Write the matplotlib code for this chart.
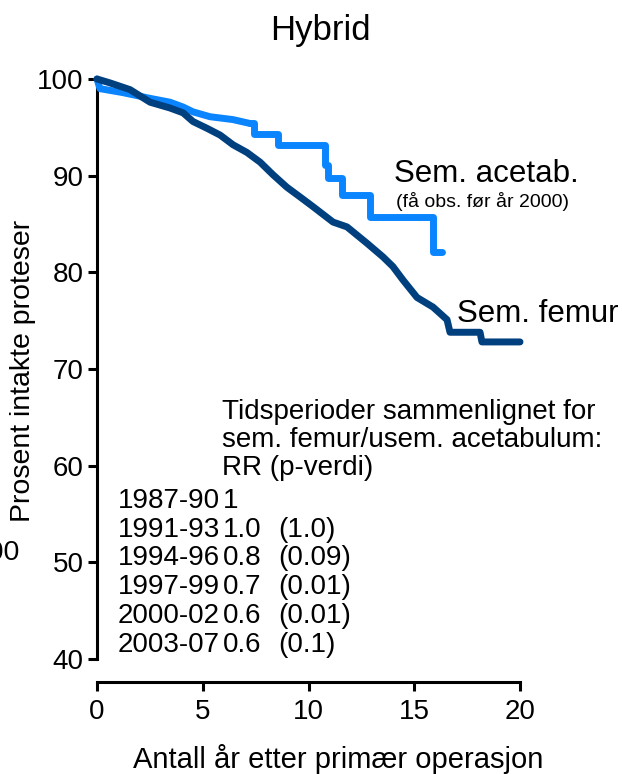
import matplotlib
matplotlib.use("Agg")
import matplotlib.pyplot as plt

plt.rcParams['font.family'] = ['Liberation Sans', 'DejaVu Sans']

W, H = 622, 774

# Sem. femur (dark)
femur_t = [0, 0.61, 1.56, 2.51, 3.45, 4.07, 4.54, 5.20, 5.82, 6.43, 7.09, 7.71,
           8.32, 8.98, 9.60, 10.21, 11.16, 11.82, 12.77, 13.52, 13.99, 14.47,
           15.13, 15.89, 16.55, 16.69, 18.11, 18.20, 20.0]
femur_v = [100, 99.6, 98.9, 97.6, 97.0, 96.5, 95.6, 94.9, 94.2, 93.2, 92.4, 91.4,
           90.1, 88.8, 87.8, 86.8, 85.2, 84.7, 83.0, 81.6, 80.6, 79.2,
           77.4, 76.4, 75.1, 73.8, 73.8, 72.8, 72.8]

# Sem. acetab. (light); gradual early part, then clear steps
acetab_t = [0, 0.14, 1.2, 2.5, 3.45, 4.07, 4.54, 5.34, 6.43, 7.23, 7.4, 8.56,
            10.78, 10.92, 11.6, 12.9, 15.9, 16.3]
acetab_v = [100, 99.0, 98.6, 98.0, 97.6, 97.1, 96.6, 96.1, 95.8, 95.4, 94.3, 93.2,
            91.1, 89.8, 88.0, 85.7, 82.1, 82.1]
n_smooth = 10  # first points drawn as a line, the rest as steps

periods = ['1987-90', '1991-93', '1994-96', '1997-99', '2000-02', '2003-07']
rr = ['1', '1.0', '0.8', '0.7', '0.6', '0.6']
pval = ['', '(1.0)', '(0.09)', '(0.01)', '(0.01)', '(0.1)']

xticks = [0, 5, 10, 15, 20]
yticks = [40, 50, 60, 70, 80, 90, 100]

light = '#0a85ff'
dark = '#00407f'


def px(x, y):
    return x / W, 1 - y / H


fig = plt.figure(figsize=(W / 100, H / 100), dpi=100)
ax = fig.add_axes([97 / W, 115 / H, 423 / W, 580 / H])

ax.plot(acetab_t[:n_smooth], acetab_v[:n_smooth], color=light, lw=5,
        solid_capstyle='round', solid_joinstyle='round', clip_on=False, zorder=3)
ax.plot(acetab_t[n_smooth - 1:], acetab_v[n_smooth - 1:], color=light, lw=5,
        drawstyle='steps-post', solid_capstyle='round', clip_on=False, zorder=3)
ax.plot(femur_t, femur_v, color=dark, lw=5, solid_capstyle='round',
        solid_joinstyle='round', clip_on=False, zorder=4)

ax.set_xlim(0, 20)
ax.set_ylim(40, 100)
ax.set_xticks(xticks)
ax.set_yticks(yticks)
for s in ['top', 'right']:
    ax.spines[s].set_visible(False)
for s in ['left', 'bottom']:
    ax.spines[s].set_linewidth(2.2)
ax.spines['bottom'].set_position(('outward', 16.5))
ax.tick_params(axis='both', length=6.5, width=2.2, labelsize=20)
ax.tick_params(axis='x', pad=6)
ax.tick_params(axis='y', pad=3)

fig.text(*px(320, 40), 'Hybrid', fontsize=25, ha='center', va='baseline')
fig.text(*px(23, 371), 'Prosent intakte proteser', fontsize=20.5,
         rotation=90, ha='center', va='center')
fig.text(*px(338, 768), 'Antall år etter primær operasjon', fontsize=21,
         ha='center', va='baseline')

fig.text(*px(394, 182), 'Sem. acetab.', fontsize=22.5, va='baseline')
fig.text(*px(396, 207), '(få obs. før år 2000)', fontsize=14, va='baseline')
fig.text(*px(457, 322), 'Sem. femur', fontsize=22.5, va='baseline')

info = ['Tidsperioder sammenlignet for', 'sem. femur/usem. acetabulum:', 'RR (p-verdi)']
for i, line in enumerate(info):
    fig.text(*px(222, 419 + 28 * i), line, fontsize=20, va='baseline')

base = [508, 537, 565, 594, 623, 652]
for i in range(len(periods)):
    fig.text(*px(118, base[i]), periods[i], fontsize=20, va='baseline')
    fig.text(*px(223, base[i]), rr[i], fontsize=20, va='baseline')
    fig.text(*px(278, base[i]), pval[i], fontsize=20, va='baseline')

fig.text(*px(20, 560), '2000', fontsize=20.5, ha='right', va='baseline')

fig.savefig('out.png', dpi=100)
